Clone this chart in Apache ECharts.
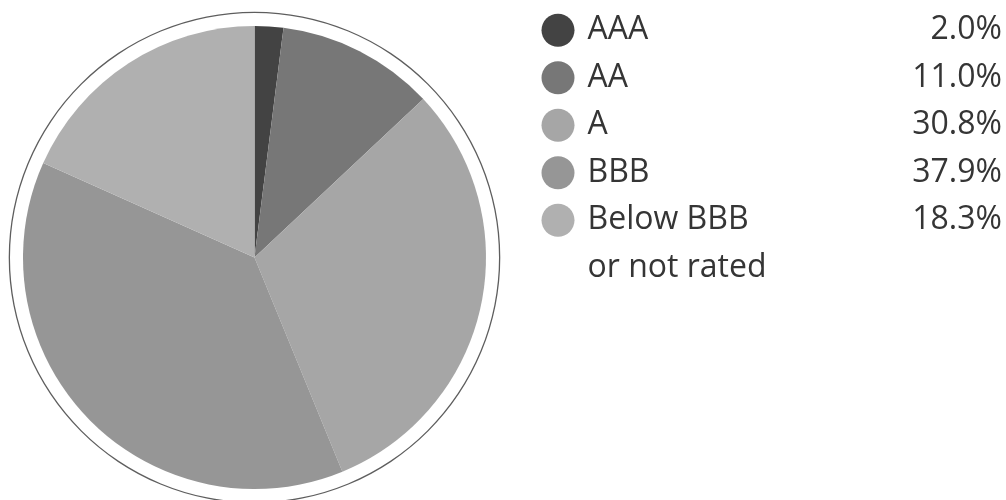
<!DOCTYPE html>
<html>
<head>
<meta charset="utf-8">
<style>
  html, body { margin: 0; padding: 0; background: #ffffff; }
  #chart { width: 1006px; height: 500px; }
</style>
<script src="https://cdn.jsdelivr.net/npm/echarts@6/dist/echarts.min.js"></script>
</head>
<body>
<div id="chart"></div>
<script>
// Credit rating breakdown (share of portfolio, %)
const ratings = ['AAA', 'AA', 'A', 'BBB', 'Below BBB\nor not rated'];
const shares = [2.0, 11.0, 30.8, 37.9, 18.3];
const sliceColors = ['#434343', '#777777', '#a6a6a6', '#969696', '#b0b0b0'];

const FONT = '"Open Sans", "Noto Sans", sans-serif';
const LINE = 47.5;
const TEXT_COLOR = '#353535';

const pieData = ratings.map((name, i) => ({
  name: name,
  value: shares[i],
  itemStyle: { color: sliceColors[i] }
}));

const shareByName = {};
ratings.forEach((n, i) => { shareByName[n] = shares[i]; });

const chart = echarts.init(document.getElementById('chart'), null, { renderer: 'canvas' });

chart.setOption({
  animation: false,
  backgroundColor: '#ffffff',
  legend: {
    orient: 'vertical',
    left: 541.5,
    top: 6.5,
    padding: 0,
    icon: 'circle',
    itemWidth: 33,
    itemHeight: 33,
    itemGap: 0,
    selectedMode: false,
    data: ratings,
    formatter: function (name) {
      const lines = name.split('\n');
      const pct = shareByName[name].toFixed(1) + '%';
      let s = '{n|' + lines[0] + '}{v|' + pct + '}';
      for (let k = 1; k < lines.length; k++) s += '\n{n|' + lines[k] + '}';
      return s;
    },
    textStyle: {
      color: TEXT_COLOR,
      fontFamily: FONT,
      fontSize: 32,
      lineHeight: LINE,
      height: LINE,
      padding: [0, 0, 0, 8],
      rich: {
        n: { width: 300, fontFamily: FONT, fontSize: 32, lineHeight: LINE, color: TEXT_COLOR },
        v: { width: 114.5, align: 'right', fontFamily: FONT, fontSize: 32, lineHeight: LINE, color: TEXT_COLOR }
      }
    }
  },
  series: [
    {
      // thin outline ring around the pie
      type: 'pie',
      silent: true,
      radius: [244.5, 245.8],
      center: [254.5, 257.5],
      label: { show: false },
      labelLine: { show: false },
      itemStyle: { color: '#5e5e5e' },
      data: [{ name: '', value: 1 }],
      legendHoverLink: false
    },
    {
      type: 'pie',
      radius: [0, 231.5],
      center: [254.5, 257.5],
      startAngle: 90,
      clockwise: true,
      label: { show: false },
      labelLine: { show: false },
      itemStyle: { borderWidth: 0 },
      emphasis: { disabled: true },
      data: pieData
    }
  ]
});
</script>
</body>
</html>
